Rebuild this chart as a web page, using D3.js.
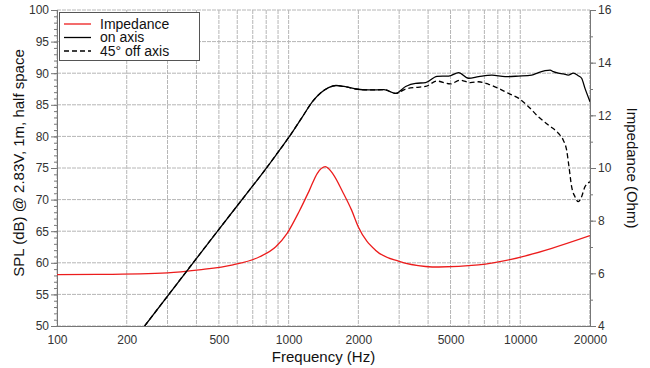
<!DOCTYPE html>
<html>
<head>
<meta charset="utf-8">
<script src="https://cdn.jsdelivr.net/npm/d3@7"></script>
<style>
  body { margin: 0; background: #fff; }
  svg { display: block; font-family: "Liberation Sans", Arial, sans-serif; }
</style>
</head>
<body>
<svg id="chart" width="650" height="368"></svg>
<script>
// axis ticks
const freqTicks = [100, 200, 500, 1000, 2000, 5000, 10000, 20000];
const splTicks = [50, 55, 60, 65, 70, 75, 80, 85, 90, 95, 100];
const ohmTicks = [4, 6, 8, 10, 12, 14, 16];

// on axis response (dB)
const onFreq = [239, 500, 677, 772, 882, 1006, 1147, 1267, 1377, 1495, 1600, 1735, 1950, 2220, 2580, 2895, 3200, 3530, 3900, 4370, 4910, 5420, 5980, 6610, 7540, 8610, 9820, 11210, 11980, 12800, 13450, 13890, 14600, 15340, 16120, 16940, 17800, 18400, 19030, 20000];
const onSpl = [50, 65.3, 71.5, 74.2, 77.05, 79.95, 83.1, 85.5, 86.9, 87.75, 88.05, 87.9, 87.5, 87.35, 87.4, 86.8, 87.9, 88.4, 88.5, 89.5, 89.55, 90.1, 89.2, 89.45, 89.7, 89.45, 89.55, 89.7, 90.1, 90.4, 90.5, 90.25, 90.0, 89.9, 89.7, 90.0, 89.6, 89.2, 87.6, 85.5];

// 45 deg off axis response (dB)
const offFreq = [239, 500, 677, 772, 882, 1006, 1147, 1267, 1377, 1495, 1600, 1735, 1950, 2220, 2580, 2895, 3200, 3530, 3900, 4370, 4990, 5510, 6090, 6610, 7300, 8060, 8900, 9820, 10850, 11980, 13220, 14600, 15340, 15850, 16230, 16660, 17230, 17800, 18400, 19030, 20000];
const offSpl = [50, 65.3, 71.5, 74.2, 77.05, 79.95, 83.1, 85.5, 86.9, 87.75, 88.05, 87.9, 87.5, 87.35, 87.4, 86.8, 87.5, 87.75, 87.9, 88.75, 88.3, 88.9, 88.5, 88.65, 88.25, 87.6, 86.8, 86.05, 84.7, 83.1, 81.8, 80.5, 79.4, 77.85, 75.2, 72.05, 70.45, 69.67, 70.45, 72.05, 72.8];

// impedance (Ohm)
const impFreq = [100, 150, 300, 410, 575, 750, 880, 985, 1110, 1230, 1330, 1440, 1560, 1710, 1870, 2000, 2370, 3000, 3900, 4450, 6600, 9130, 13680, 20000];
const impOhm = [5.95, 5.96, 6.02, 6.13, 6.32, 6.63, 7.01, 7.52, 8.35, 9.16, 9.8, 10.05, 9.75, 9.1, 8.4, 7.76, 6.88, 6.45, 6.26, 6.24, 6.32, 6.53, 6.95, 7.43];

const svg = d3.select("#chart");
const pL = 57, pR = 590, pT = 10, pB = 326;

const x = d3.scaleLog().domain([100, 20000]).range([pL, pR]);
const y = d3.scaleLinear().domain([50, 100]).range([pB, pT]);
const y2 = d3.scaleLinear().domain([4, 16]).range([pB, pT]);

// grid
const minorFreq = [];
[100, 1000, 10000].forEach(d => { for (let k = 1; k < 10; k++) if (d * k <= 20000) minorFreq.push(d * k); });
minorFreq.push(20000);

const grid = svg.append("g");
grid.selectAll(".vg").data(minorFreq).join("line")
  .attr("x1", d => x(d)).attr("x2", d => x(d))
  .attr("y1", pT).attr("y2", pB)
  .attr("stroke", "#b6b6b6").attr("stroke-width", 1)
  .attr("stroke-dasharray", "4,1");
grid.selectAll(".hg").data(splTicks).join("line")
  .attr("x1", pL).attr("x2", pR)
  .attr("y1", d => y(d)).attr("y2", d => y(d))
  .attr("stroke", "#b6b6b6").attr("stroke-width", 1)
  .attr("stroke-dasharray", "4,1");

// axes
svg.append("g").attr("transform", `translate(${pL},0)`)
  .call(d3.axisLeft(y).tickValues(d3.range(50, 101, 1)).tickSize(3).tickFormat(""));
svg.append("g").attr("transform", `translate(${pL},0)`)
  .call(d3.axisLeft(y).tickValues(splTicks).tickSize(6).tickPadding(2).tickFormat(d3.format("d")));
svg.append("g").attr("transform", `translate(${pR},0)`)
  .call(d3.axisRight(y2).tickValues(d3.range(4, 16.5, 1)).tickSize(3).tickFormat(""));
svg.append("g").attr("transform", `translate(${pR},0)`)
  .call(d3.axisRight(y2).tickValues(ohmTicks).tickSize(6).tickPadding(2).tickFormat(d3.format("d")));
svg.append("g").attr("transform", `translate(0,${pB})`)
  .call(d3.axisBottom(x).tickValues(freqTicks).tickSize(0).tickPadding(9).tickFormat(d3.format("d")));

svg.selectAll(".domain").attr("stroke", "#777");
svg.selectAll(".tick line").attr("stroke", "#777");
svg.selectAll(".tick text").attr("font-size", 12).attr("fill", "#333")
  .attr("font-family", "Liberation Sans, Arial, sans-serif");

// curves
svg.append("clipPath").attr("id", "plot").append("rect")
  .attr("x", pL).attr("y", pT).attr("width", pR - pL).attr("height", pB - pT);

const lineL = d3.line().x(d => x(d[0])).y(d => y(d[1])).curve(d3.curveMonotoneX);
const lineR = d3.line().x(d => x(d[0])).y(d => y2(d[1])).curve(d3.curveMonotoneX);

const plot = svg.append("g").attr("clip-path", "url(#plot)");
plot.append("path").datum(d3.zip(impFreq, impOhm)).attr("d", lineR)
  .attr("fill", "none").attr("stroke", "#ec1c1c").attr("stroke-width", 1.3);
plot.append("path").datum(d3.zip(offFreq, offSpl)).attr("d", lineL)
  .attr("fill", "none").attr("stroke", "#000").attr("stroke-width", 1.3)
  .attr("stroke-dasharray", "5,3");
plot.append("path").datum(d3.zip(onFreq, onSpl)).attr("d", lineL)
  .attr("fill", "none").attr("stroke", "#000").attr("stroke-width", 1.3);

// legend
const leg = svg.append("g");
leg.append("rect").attr("x", 59.5).attr("y", 12.5).attr("width", 140).attr("height", 48)
  .attr("fill", "#fff").attr("stroke", "#555");
const legItems = [
  { name: "Impedance", color: "#ec1c1c", dash: null },
  { name: "on axis", color: "#000", dash: null },
  { name: "45° off axis", color: "#000", dash: "5,3" }
];
legItems.forEach((d, i) => {
  const ly = 24 + i * 13.5;
  leg.append("line").attr("x1", 64).attr("x2", 91).attr("y1", ly).attr("y2", ly)
    .attr("stroke", d.color).attr("stroke-width", 1.3).attr("stroke-dasharray", d.dash);
  leg.append("text").attr("x", 100).attr("y", ly + 4.5).attr("font-size", 14)
    .attr("fill", "#111").text(d.name);
});

// titles
svg.append("text").attr("x", (pL + pR) / 2).attr("y", 362).attr("text-anchor", "middle")
  .attr("font-size", 15).attr("fill", "#111").text("Frequency (Hz)");
svg.append("text").attr("transform", "translate(24,163) rotate(-90)").attr("text-anchor", "middle")
  .attr("font-size", 15).attr("fill", "#111").text("SPL (dB) @ 2.83V, 1m, half space");
svg.append("text").attr("transform", "translate(627,168) rotate(90)").attr("text-anchor", "middle")
  .attr("font-size", 15).attr("fill", "#111").text("Impedance (Ohm)");
</script>
</body>
</html>
